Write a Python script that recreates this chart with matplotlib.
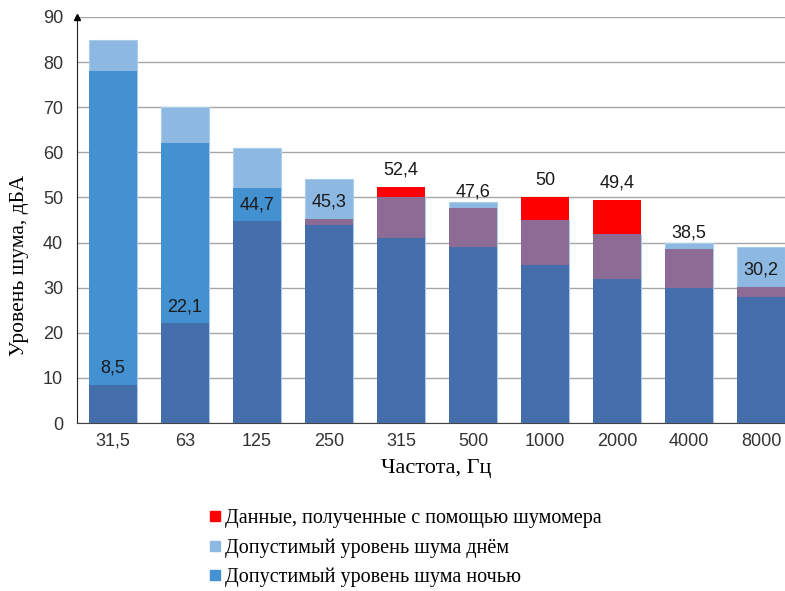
import matplotlib.pyplot as plt
import numpy as np
from matplotlib.lines import Line2D

# frequency bands and levels (dBA)
freqs = ['31,5', '63', '125', '250', '315', '500', '1000', '2000', '4000', '8000']
measured = [8.5, 22.1, 44.7, 45.3, 52.4, 47.6, 50, 49.4, 38.5, 30.2]
day_limit = [85, 70, 61, 54, 50, 49, 45, 42, 40, 39]
night_limit = [78, 62, 52, 44, 41, 39, 35, 32, 30, 28]

light_blue = '#8DB8E2'
mid_blue = '#4391D1'
dark_blue = '#436EAA'
purple = '#8C6B94'
red = '#FF0000'
edge = '#A9CCEB'

serif = ['Liberation Serif', 'DejaVu Serif']
sans = ['Liberation Sans', 'DejaVu Sans']

fig = plt.figure(figsize=(7.85, 5.91), dpi=100)
ax = fig.add_axes([77/785, (591-423)/591, 720/785, 406/591])

x = np.arange(len(freqs))
meas = np.array(measured)
day = np.array(day_limit)
night = np.array(night_limit)
w = 0.68

ax.bar(x, day, w, color=light_blue, edgecolor=edge, linewidth=0.8, zorder=2)
ax.bar(x, meas, w, color=red, linewidth=0, zorder=3)
ax.bar(x, np.minimum(meas, day), w, color=purple, linewidth=0, zorder=4)
ax.bar(x, night, w, color=mid_blue, linewidth=0, zorder=5)
ax.bar(x, np.minimum(meas, night), w, color=dark_blue, linewidth=0, zorder=6)

for xi, v in zip(x, measured):
    ax.annotate(f'{v:g}'.replace('.', ','), (xi, v), xytext=(0, 12),
                textcoords='offset points', ha='center', va='center',
                fontsize=13, family=sans, color='#1a1a1a', zorder=10)

ax.set_xlim(-0.5, 9.5)
ax.set_ylim(0, 90)
ax.set_yticks(range(0, 91, 10))
ax.set_xticks(x)
ax.set_xticklabels(freqs)
ax.tick_params(length=0, labelsize=13, colors='#333333', pad=7)
ax.tick_params(axis='y', pad=10)
for lab in ax.get_xticklabels() + ax.get_yticklabels():
    lab.set_family(sans)

ax.grid(axis='y', color='#A6A6A6', linewidth=1, zorder=0)
ax.set_axisbelow(True)
for s in ['top', 'right']:
    ax.spines[s].set_visible(False)
ax.spines['left'].set_color('#222222')
ax.spines['bottom'].set_color('#444444')
ax.plot(0, 1, marker='^', color='black', markersize=5, transform=ax.transAxes,
        clip_on=False, zorder=11)

ax.set_ylabel('Уровень шума, дБА', family=serif, fontsize=15.5)
ax.yaxis.set_label_coords((29 - 77) / 720, (423 - 265) / 406)
ax.set_xlabel('Частота, Гц', family=serif, fontsize=16)
ax.xaxis.set_label_coords((436 - 77) / 720, -0.088)

handles = [Line2D([], [], marker='s', linestyle='none', color=c, markersize=6.5)
           for c in (red, light_blue, mid_blue)]
labels = ['Данные, полученные с помощью шумомера',
          'Допустимый уровень шума днём',
          'Допустимый уровень шума ночью']
fig.legend(handles, labels, loc='upper left', bbox_to_anchor=(209/785, 1 - 509/591),
           frameon=False, prop={'family': serif, 'size': 14.5},
           handlelength=0.6, handletextpad=0.2, labelspacing=0.5,
           borderpad=0, borderaxespad=0)

fig.savefig('out.png', dpi=100)
